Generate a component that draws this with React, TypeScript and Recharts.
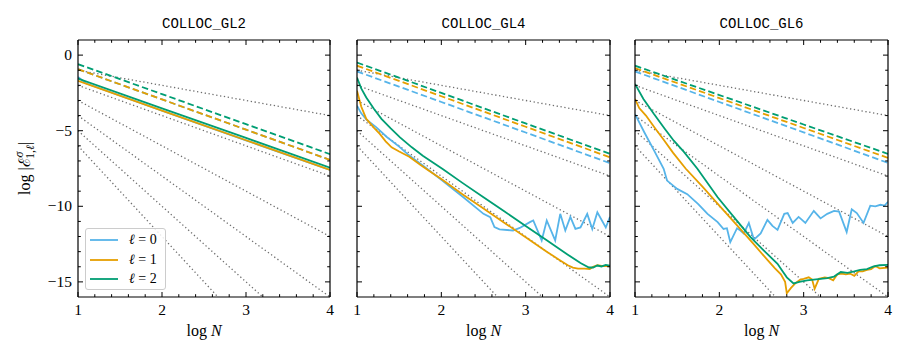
import React from 'react';
import { LineChart, Line, XAxis, YAxis, Legend, Label } from 'recharts';

type Pt = [number, number];

// axis ticks (log10 N on x, log10 error on y)
const LOG_N_TICKS = [1, 1.2, 1.4, 1.6, 1.8, 2, 2.2, 2.4, 2.6, 2.8, 3, 3.2, 3.4, 3.6, 3.8, 4];
const LOG_N_MAJOR = [1, 2, 3, 4];
const LOG_E_TICKS = [0, -1, -2, -3, -4, -5, -6, -7, -8, -9, -10, -11, -12, -13, -14, -15];
const LOG_E_MAJOR = [0, -5, -10, -15];

// dotted reference slopes N^-1 ... N^-6
const GUIDE_N = [1, 4];
const GUIDE_VALUES = [
  [-1, -4],
  [-2, -8],
  [-3, -12],
  [-4, -16],
  [-5, -20],
  [-6, -24],
];

const ELL_LABELS = ['0', '1', '2'];
const COLORS = ['#56B4E9', '#E69F00', '#009E73'];

// COLLOC_GL2
const GL2_DASHED_0: Pt[] = [[1, -0.93], [2, -2.93], [3, -4.93], [4, -6.93]];
const GL2_DASHED_1: Pt[] = [[1, -0.93], [2, -2.93], [3, -4.93], [4, -6.93]];
const GL2_DASHED_2: Pt[] = [[1, -0.6], [2, -2.58], [3, -4.57], [4, -6.55]];
const GL2_SOLID_0: Pt[] = [[1, -1.45], [1.1, -1.88], [2, -3.68], [3, -5.64], [4, -7.6]];
const GL2_SOLID_1: Pt[] = [[1, -1.7], [2, -3.67], [3, -5.63], [4, -7.6]];
const GL2_SOLID_2: Pt[] = [[1, -1.55], [2, -3.52], [3, -5.48], [4, -7.45]];

// COLLOC_GL4
const GL4_DASHED_0: Pt[] = [[1, -1.08], [2, -3.1], [3, -5.12], [4, -7.15]];
const GL4_DASHED_1: Pt[] = [[1, -0.7], [2, -2.72], [3, -4.74], [4, -6.76]];
const GL4_DASHED_2: Pt[] = [[1, -0.49], [2, -2.5], [3, -4.52], [4, -6.53]];
const GL4_SOLID_0: Pt[] = [
  [1, -3.35], [1.05, -3.85], [1.11, -4.25], [1.23, -4.78], [1.35, -5.4], [1.5, -6.05], [1.6, -6.55],
  [1.78, -7.3], [2, -8.25], [2.25, -9.35], [2.5, -10.5], [2.58, -10.72], [2.63, -11.38], [2.69, -11.53],
  [2.85, -11.6], [2.93, -11.43], [3.05, -11.05], [3.09, -10.94], [3.19, -12.26], [3.25, -10.94],
  [3.35, -12.26], [3.41, -10.5], [3.47, -11.6], [3.53, -10.7], [3.59, -11.5], [3.65, -11.4],
  [3.73, -10.5], [3.79, -11.5], [3.85, -10.4], [3.95, -11.4], [4, -10.7],
];
const GL4_SOLID_1: Pt[] = [
  [1, -2.36], [1.05, -3.4], [1.11, -4.22], [1.2, -4.8], [1.27, -5.21], [1.34, -5.7], [1.41, -6.1],
  [1.5, -6.38], [1.62, -6.72], [1.75, -7.25], [1.84, -7.6], [2, -8.2], [2.25, -9.2], [2.5, -10.15],
  [2.75, -11.1], [3, -12.05], [3.25, -13.0], [3.4, -13.55], [3.5, -13.9], [3.56, -14.05], [3.62, -14.12],
  [3.7, -14.12], [3.76, -14.15], [3.8, -14.0], [3.85, -13.9], [3.9, -13.95], [4, -13.95],
];
const GL4_SOLID_2: Pt[] = [
  [1, -1.48], [1.05, -2.2], [1.11, -2.8], [1.2, -3.55], [1.29, -4.22], [1.4, -4.85], [1.51, -5.44],
  [1.65, -6.1], [1.78, -6.65], [1.9, -7.1], [2.02, -7.55], [2.25, -8.45], [2.5, -9.4], [2.75, -10.35],
  [3, -11.3], [3.25, -12.25], [3.5, -13.2], [3.65, -13.75], [3.75, -14.05], [3.8, -14.05], [3.85, -13.92],
  [3.9, -13.98], [3.95, -13.88], [4, -13.92],
];

// COLLOC_GL6
const GL6_DASHED_0: Pt[] = [[1, -1.08], [2, -3.1], [3, -5.11], [4, -7.13]];
const GL6_DASHED_1: Pt[] = [[1, -0.86], [2, -2.84], [3, -4.82], [4, -6.8]];
const GL6_DASHED_2: Pt[] = [[1, -0.7], [2, -2.64], [3, -4.59], [4, -6.53]];
const GL6_SOLID_0: Pt[] = [
  [1, -3.9], [1.11, -5.1], [1.23, -6.35], [1.34, -7.52], [1.38, -8.3], [1.5, -8.85], [1.62, -9.2],
  [1.75, -9.85], [1.86, -10.5], [1.98, -11.05], [2.05, -11.5], [2.09, -11.45], [2.13, -12.37],
  [2.21, -11.45], [2.25, -11.6], [2.29, -11.8], [2.35, -11.1], [2.41, -12.2], [2.49, -11.8],
  [2.57, -10.9], [2.63, -11.3], [2.69, -11.56], [2.77, -10.5], [2.81, -10.45], [2.87, -11.1],
  [2.94, -10.7], [2.98, -10.9], [3.02, -11.1], [3.12, -10.3], [3.16, -10.55], [3.2, -10.8],
  [3.28, -10.5], [3.36, -10.3], [3.42, -10.35], [3.51, -11.7], [3.57, -10.2], [3.63, -10.45],
  [3.71, -11.1], [3.79, -9.96], [3.85, -10.0], [3.91, -9.9], [3.96, -9.95], [4, -9.7],
];
const GL6_SOLID_1: Pt[] = [
  [1, -2.9], [1.05, -3.5], [1.13, -4.0], [1.24, -4.85], [1.34, -5.6], [1.45, -6.45], [1.6, -7.5],
  [1.8, -8.7], [2, -9.95], [2.2, -11.2], [2.4, -12.45], [2.57, -13.55], [2.66, -14.1], [2.73, -14.5],
  [2.78, -15.0], [2.8, -15.75], [2.85, -15.4], [2.9, -15.1], [2.96, -14.85], [3, -14.8], [3.06, -14.7],
  [3.1, -14.85], [3.13, -15.45], [3.18, -14.8], [3.25, -14.7], [3.3, -14.75], [3.35, -14.9],
  [3.4, -14.5], [3.45, -14.45], [3.5, -14.5], [3.55, -14.45], [3.6, -14.6], [3.65, -14.3],
  [3.7, -14.3], [3.75, -14.2], [3.8, -14.15], [3.85, -13.95], [3.9, -14.1], [4, -14.05],
];
const GL6_SOLID_2: Pt[] = [
  [1, -1.91], [1.1, -2.9], [1.225, -3.9], [1.35, -4.85], [1.46, -5.66], [1.58, -6.4], [1.74, -7.52],
  [1.98, -9.4], [2.2, -10.9], [2.37, -12.04], [2.55, -13.05], [2.69, -13.8], [2.75, -14.3],
  [2.8, -14.7], [2.88, -15.1], [2.95, -15.0], [3.04, -14.9], [3.12, -14.85], [3.2, -14.8],
  [3.28, -14.75], [3.36, -14.65], [3.44, -14.35], [3.52, -14.4], [3.6, -14.3], [3.67, -14.2],
  [3.75, -14.15], [3.83, -13.98], [3.9, -13.9], [4, -13.87],
];

const PANELS = [
  { title: 'COLLOC_GL2', dashed: [GL2_DASHED_0, GL2_DASHED_1, GL2_DASHED_2], solid: [GL2_SOLID_0, GL2_SOLID_1, GL2_SOLID_2] },
  { title: 'COLLOC_GL4', dashed: [GL4_DASHED_0, GL4_DASHED_1, GL4_DASHED_2], solid: [GL4_SOLID_0, GL4_SOLID_1, GL4_SOLID_2] },
  { title: 'COLLOC_GL6', dashed: [GL6_DASHED_0, GL6_DASHED_1, GL6_DASHED_2], solid: [GL6_SOLID_0, GL6_SOLID_1, GL6_SOLID_2] },
];

const SERIF = '"Liberation Serif", "DejaVu Serif", serif';
const MONO = '"Liberation Mono", "DejaVu Sans Mono", monospace';
const MAJOR_LEN = 5;
const MINOR_LEN = 2.8;

const toRows = (pts: Pt[]) => pts.map(([x, y]) => ({ x, y }));
const fmt = (v: number) => (v < 0 ? `\u2212${-v}` : `${v}`);

const makeTick = (side: 'bottom' | 'top' | 'left' | 'right', showLabel: boolean) => (p: any) => {
  const v = p.payload.value;
  const horiz = side === 'bottom' || side === 'top';
  const major = horiz ? LOG_N_MAJOR.includes(v) : LOG_E_MAJOR.includes(v);
  const len = major ? MAJOR_LEN : MINOR_LEN;
  let x2 = p.x;
  let y2 = p.y;
  if (side === 'bottom') y2 = p.y - len;
  if (side === 'top') y2 = p.y + len;
  if (side === 'left') x2 = p.x + len;
  if (side === 'right') x2 = p.x - len;
  return (
    <g>
      <line x1={p.x} y1={p.y} x2={x2} y2={y2} stroke="#000" strokeWidth={1} />
      {major && showLabel && side === 'bottom' && (
        <text x={p.x} y={p.y + 18} textAnchor="middle" fontFamily={SERIF} fontSize={15.5} fill="#000">
          {fmt(v)}
        </text>
      )}
      {major && showLabel && side === 'left' && (
        <text x={p.x - 6} y={p.y + 5} textAnchor="end" fontFamily={SERIF} fontSize={15.5} fill="#000">
          {fmt(v)}
        </text>
      )}
    </g>
  );
};

const LegendBox = () => (
  <div
    style={{
      width: 79,
      height: 60,
      border: '1px solid #cccccc',
      borderRadius: 3,
      background: 'rgba(255,255,255,0.85)',
      fontFamily: SERIF,
      fontSize: 14,
      position: 'relative',
    }}
  >
    {ELL_LABELS.map((lab, i) => (
      <div key={lab} style={{ position: 'absolute', left: 3, top: 2 + i * 19.5, height: 18, display: 'flex', alignItems: 'center' }}>
        <svg width={30} height={18}>
          <line x1={1} y1={9} x2={29} y2={9} stroke={COLORS[i]} strokeWidth={1.8} />
        </svg>
        <span style={{ marginLeft: 10, whiteSpace: 'nowrap' }}>
          <span style={{ fontStyle: 'italic' }}>{'\u2113'}</span> = {lab}
        </span>
      </div>
    ))}
  </div>
);

const CHART_H = 358;
const MARGIN_TOP = 39;
const MARGIN_BOTTOM = 60;
const PANEL_LAYOUT = [
  { left: 0, marginLeft: 77, plotW: 252 },
  { left: 343, marginLeft: 13, plotW: 253 },
  { left: 621, marginLeft: 13, plotW: 253 },
];

const Panel = ({ idx }: { idx: number }) => {
  const panel = PANELS[idx];
  const lay = PANEL_LAYOUT[idx];
  const first = idx === 0;
  const width = lay.marginLeft + 1 + lay.plotW + 1 + 11;
  return (
    <div style={{ position: 'absolute', left: lay.left, top: 0 }}>
      <LineChart
        width={width}
        height={CHART_H}
        margin={{ top: MARGIN_TOP, right: 11, bottom: MARGIN_BOTTOM, left: lay.marginLeft }}
      >
        <XAxis
          xAxisId={0}
          dataKey="x"
          type="number"
          domain={[1, 4]}
          allowDataOverflow
          ticks={LOG_N_TICKS}
          interval={0}
          height={1}
          tickSize={0}
          tickMargin={0}
          tickLine={false}
          axisLine={{ stroke: '#000', strokeWidth: 1.2 }}
          tick={makeTick('bottom', true)}
        >
          <Label
            content={(p: any) => (
              <text
                x={p.viewBox.x + p.viewBox.width / 2}
                y={p.viewBox.y + 39}
                textAnchor="middle"
                fontFamily={SERIF}
                fontSize={16}
                fill="#000"
              >
                log <tspan fontStyle="italic">N</tspan>
              </text>
            )}
          />
        </XAxis>
        <XAxis
          xAxisId="top"
          orientation="top"
          dataKey="x"
          type="number"
          domain={[1, 4]}
          allowDataOverflow
          ticks={LOG_N_TICKS}
          interval={0}
          height={1}
          tickSize={0}
          tickMargin={0}
          tickLine={false}
          axisLine={{ stroke: '#000', strokeWidth: 1.2 }}
          tick={makeTick('top', false)}
        >
          <Label
            content={(p: any) => (
              <text
                x={p.viewBox.x + p.viewBox.width / 2}
                y={p.viewBox.y + p.viewBox.height - 12}
                textAnchor="middle"
                fontFamily={MONO}
                fontSize={14}
                fill="#000"
              >
                {panel.title}
              </text>
            )}
          />
        </XAxis>
        <YAxis
          yAxisId={0}
          type="number"
          domain={[-16, 1]}
          allowDataOverflow
          ticks={LOG_E_TICKS}
          interval={0}
          width={1}
          tickSize={0}
          tickMargin={0}
          tickLine={false}
          axisLine={{ stroke: '#000', strokeWidth: 1.2 }}
          tick={makeTick('left', first)}
        >
          {first && (
            <Label
              content={(p: any) => {
                const cx = 30;
                const cy = p.viewBox.y + p.viewBox.height / 2;
                return (
                  <text
                    x={cx}
                    y={cy}
                    transform={`rotate(-90 ${cx} ${cy})`}
                    textAnchor="middle"
                    fontFamily={SERIF}
                    fontSize={16}
                    fill="#000"
                  >
                    log |{'\u2130'}
                    <tspan fontSize={11.5} dy={-7} fontStyle="italic">{'\u03c3'}</tspan>
                    <tspan fontSize={11.5} dx={-7} dy={11}>1,<tspan fontStyle="italic">{'\u2113'}</tspan></tspan>
                    <tspan dy={-4}>|</tspan>
                  </text>
                );
              }}
            />
          )}
        </YAxis>
        <YAxis
          yAxisId="right"
          orientation="right"
          type="number"
          domain={[-16, 1]}
          allowDataOverflow
          ticks={LOG_E_TICKS}
          interval={0}
          width={1}
          tickSize={0}
          tickMargin={0}
          tickLine={false}
          axisLine={{ stroke: '#000', strokeWidth: 1.2 }}
          tick={makeTick('right', false)}
        />
        {GUIDE_VALUES.map((vals, k) => (
          <Line
            key={`guide-${k}`}
            data={GUIDE_N.map((x, j) => ({ x, y: vals[j] }))}
            dataKey="y"
            stroke="#6e6e6e"
            strokeWidth={1.3}
            strokeDasharray="1.3 2.6"
            dot={false}
            activeDot={false}
            isAnimationActive={false}
          />
        ))}
        {panel.dashed.map((pts, i) => (
          <Line
            key={`dashed-${i}`}
            data={toRows(pts)}
            dataKey="y"
            stroke={COLORS[i]}
            strokeWidth={1.8}
            strokeDasharray="6.5 3.2"
            dot={false}
            activeDot={false}
            isAnimationActive={false}
          />
        ))}
        {panel.solid.map((pts, i) => (
          <Line
            key={`solid-${i}`}
            data={toRows(pts)}
            dataKey="y"
            stroke={COLORS[i]}
            strokeWidth={1.8}
            dot={false}
            activeDot={false}
            isAnimationActive={false}
          />
        ))}
        {first && (
          <Legend
            layout="vertical"
            align="center"
            verticalAlign="middle"
            wrapperStyle={{ left: 85, top: 228, width: 'auto' }}
            content={() => <LegendBox />}
          />
        )}
      </LineChart>
    </div>
  );
}

export default function App() {
  return (
    <div style={{ position: 'absolute', left: 0, top: 0, width: 910, height: 358, background: '#fff' }}>
      {PANELS.map((_, i) => (
        <Panel key={i} idx={i} />
      ))}
    </div>
  );
}
